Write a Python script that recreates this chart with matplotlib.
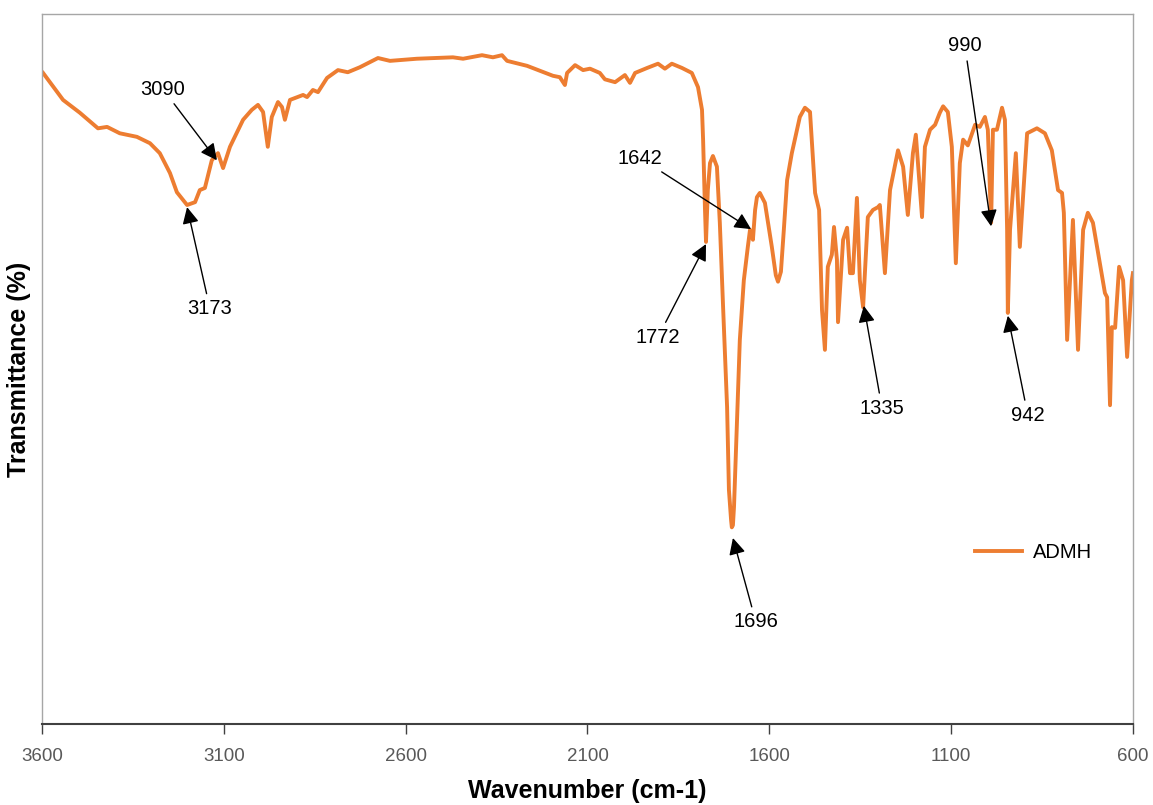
import matplotlib
matplotlib.use("Agg")
import matplotlib.pyplot as plt

plt.rcParams['font.family'] = ['Liberation Sans', 'DejaVu Sans']

# IR spectrum of ADMH
wavenumber = [3597, 3542, 3496, 3446, 3421, 3386, 3339, 3303, 3276, 3248, 3229, 3201,
              3179, 3166, 3152, 3133, 3116, 3102, 3083, 3047, 3023, 3006, 2992, 2979,
              2968, 2951, 2940, 2932, 2918, 2882, 2871, 2855, 2841, 2816, 2786, 2759,
              2726, 2676, 2643, 2569, 2470, 2442, 2390, 2360, 2335, 2321, 2266, 2195,
              2176, 2162, 2156, 2134, 2112, 2093, 2066, 2052, 2024, 1997, 1983, 1969,
              1936, 1906, 1887, 1868, 1840, 1813, 1796, 1785, 1782, 1777, 1774, 1769,
              1763, 1755, 1744, 1736, 1727, 1716, 1711, 1705, 1703, 1700, 1697, 1689,
              1681, 1670, 1659, 1653, 1645, 1639, 1634, 1626, 1612, 1593, 1582, 1576,
              1568, 1560, 1551, 1538, 1516, 1502, 1488, 1474, 1463,
              1455, 1447, 1439, 1428, 1422, 1414, 1411, 1397, 1386, 1378, 1370, 1359,
              1351, 1342, 1329, 1315, 1301, 1296, 1282, 1268, 1246, 1232, 1219, 1205,
              1197, 1180, 1172, 1158, 1144, 1131, 1122, 1109, 1098, 1087, 1076, 1067,
              1054, 1034, 1021, 1007, 999, 990, 985, 974, 960, 952, 946, 944,
              938, 922, 911, 891, 864, 842, 823, 806, 795, 790, 781, 765,
              751, 737, 724, 710, 691, 677, 671, 663, 658, 649, 638, 627,
              616, 603, 600]
transmittance = [91.7, 87.9, 86.1, 83.9, 84.1, 83.2, 82.7, 81.8, 80.4, 77.6, 74.9, 73.1,
                 73.5, 75.2, 75.5, 79.4, 80.4, 78.3, 81.3, 85.1, 86.5, 87.2, 86.2, 81.3,
                 85.5, 87.6, 86.9, 85.1, 87.9, 88.6, 88.3, 89.3, 89.0, 91.0, 92.1, 91.8,
                 92.5, 93.8, 93.4, 93.7, 93.9, 93.7, 94.2, 93.9, 94.2, 93.4, 92.7, 91.3,
                 91.1, 90.0, 91.7, 92.8, 92.1, 92.3, 91.7, 90.8, 90.4, 91.4, 90.3, 91.7,
                 92.4, 93.0, 92.3, 93.0, 92.4, 91.7, 89.7, 86.5, 82.3, 72.8, 67.9, 75.2,
                 79.0, 80.0, 78.5, 70.6, 58.7, 44.6, 33.0, 28.7, 27.7, 28.0, 30.6, 42.4,
                 54.1, 62.5, 67.2, 69.6, 68.2, 72.4, 74.2, 74.8, 73.4, 67.2, 63.2, 62.3,
                 63.7, 69.6, 76.6, 80.4, 85.5, 86.8, 86.2, 74.8, 72.4,
                 58.3, 52.7, 64.4, 66.1, 70.0, 65.4, 56.6, 68.2, 69.9, 63.5, 63.5, 74.1,
                 62.5, 58.7, 71.4, 72.4, 72.8, 73.1, 63.5, 75.2, 80.8, 78.5, 71.7, 80.4,
                 83.0, 71.4, 81.3, 83.7, 84.4, 86.1, 87.0, 86.2, 81.3, 64.9, 79.0, 82.3,
                 81.5, 84.4, 84.1, 85.5, 83.7, 70.6, 83.7, 83.7, 86.8, 85.1, 69.6, 57.9,
                 69.6, 80.4, 67.2, 83.2, 83.9, 83.2, 80.8, 75.2, 74.8, 72.0, 54.1, 71.0,
                 52.7, 69.6, 72.0, 70.6, 64.9, 60.7, 60.1, 44.9, 55.9, 55.8, 64.4, 62.5,
                 51.7, 62.5, 63.5]

# peak labels: (text, arrow tip (wn, T), text position (wn, T))
peak_labels = ['3090', '3173', '1642', '1772', '1696', '1335', '990', '942']
peak_tips = [(3119, 79.4), (3201, 72.8), (1650, 69.7), (1774, 67.6),
             (1700, 26.2), (1340, 58.9), (990, 70.1), (944, 57.5)]
label_pos = [(3267, 89.4), (3138, 58.5), (1955, 79.7), (1906, 54.5),
             (1637, 14.4), (1290, 44.5), (1062, 95.5), (889, 43.5)]

xticks = [3600, 3100, 2600, 2100, 1600, 1100, 600]

fig = plt.figure(figsize=(11.53, 8.05), dpi=100)
ax = fig.add_axes([0.0364, 0.1006, 0.9462, 0.882])

ax.plot(wavenumber, transmittance, color='#ED7D31', lw=2.8, label='ADMH',
        solid_joinstyle='round')

for lab, tip, pos in zip(peak_labels, peak_tips, label_pos):
    ax.annotate(lab, xy=tip, xytext=pos, ha='center', va='center', fontsize=14.5,
                arrowprops=dict(arrowstyle='-|>', color='black', lw=1,
                                mutation_scale=25, shrinkA=2, shrinkB=0))

ax.set_xlim(3600, 600)
ax.set_ylim(0, 100)
ax.set_xticks(xticks)
ax.set_xticklabels([str(t) for t in xticks], color='#595959', fontsize=13.5)
ax.set_yticks([])
ax.tick_params(axis='x', length=7, width=1, color='#404040', pad=10)

for s in ['left', 'right', 'top']:
    ax.spines[s].set_color('#a6a6a6')
    ax.spines[s].set_linewidth(1)
ax.spines['bottom'].set_color('#404040')
ax.spines['bottom'].set_linewidth(1.5)

ax.set_xlabel('Wavenumber (cm-1)', fontsize=18, fontweight='bold', labelpad=10)
ax.set_ylabel('Transmittance (%)', fontsize=18, fontweight='bold', labelpad=8)

ax.legend(loc='center left', bbox_to_anchor=(0.839, 0.241), frameon=False,
          fontsize=14.5, handlelength=2.3, handletextpad=0.55)

fig.savefig('out.png', dpi=100)
